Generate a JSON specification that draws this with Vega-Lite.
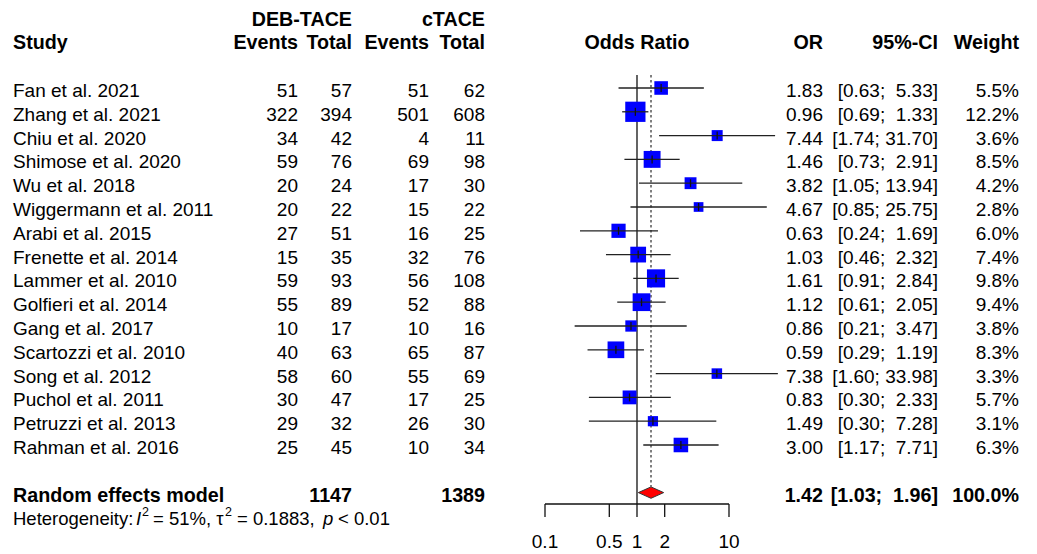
{
  "$schema": "https://vega.github.io/schema/vega-lite/v6.json",
  "width": 1037,
  "height": 554,
  "autosize": {"type": "fit", "contains": "padding"},
  "padding": 0,
  "background": "white",
  "config": {
    "view": {"stroke": null},
    "text": {"font": "Liberation Sans", "fontSize": 19, "fill": "black", "baseline": "middle", "dy": 3}
  },
  "datasets": {
    "studies": [
      {"study": "Fan et al. 2021", "e1": 51, "n1": 57, "e2": 51, "n2": 62, "or": 1.83, "lo": 0.63, "hi": 5.33, "ci": "[0.63;\u00a0\u00a05.33]", "w": 5.5, "wt": "5.5%", "row": 1},
      {"study": "Zhang et al. 2021", "e1": 322, "n1": 394, "e2": 501, "n2": 608, "or": 0.96, "lo": 0.69, "hi": 1.33, "ci": "[0.69;\u00a0\u00a01.33]", "w": 12.2, "wt": "12.2%", "row": 2},
      {"study": "Chiu et al. 2020", "e1": 34, "n1": 42, "e2": 4, "n2": 11, "or": 7.44, "lo": 1.74, "hi": 31.70, "ci": "[1.74;\u00a031.70]", "w": 3.6, "wt": "3.6%", "row": 3},
      {"study": "Shimose et al. 2020", "e1": 59, "n1": 76, "e2": 69, "n2": 98, "or": 1.46, "lo": 0.73, "hi": 2.91, "ci": "[0.73;\u00a0\u00a02.91]", "w": 8.5, "wt": "8.5%", "row": 4},
      {"study": "Wu et al. 2018", "e1": 20, "n1": 24, "e2": 17, "n2": 30, "or": 3.82, "lo": 1.05, "hi": 13.94, "ci": "[1.05;\u00a013.94]", "w": 4.2, "wt": "4.2%", "row": 5},
      {"study": "Wiggermann et al. 2011", "e1": 20, "n1": 22, "e2": 15, "n2": 22, "or": 4.67, "lo": 0.85, "hi": 25.75, "ci": "[0.85;\u00a025.75]", "w": 2.8, "wt": "2.8%", "row": 6},
      {"study": "Arabi et al. 2015", "e1": 27, "n1": 51, "e2": 16, "n2": 25, "or": 0.63, "lo": 0.24, "hi": 1.69, "ci": "[0.24;\u00a0\u00a01.69]", "w": 6.0, "wt": "6.0%", "row": 7},
      {"study": "Frenette et al. 2014", "e1": 15, "n1": 35, "e2": 32, "n2": 76, "or": 1.03, "lo": 0.46, "hi": 2.32, "ci": "[0.46;\u00a0\u00a02.32]", "w": 7.4, "wt": "7.4%", "row": 8},
      {"study": "Lammer et al. 2010", "e1": 59, "n1": 93, "e2": 56, "n2": 108, "or": 1.61, "lo": 0.91, "hi": 2.84, "ci": "[0.91;\u00a0\u00a02.84]", "w": 9.8, "wt": "9.8%", "row": 9},
      {"study": "Golfieri et al. 2014", "e1": 55, "n1": 89, "e2": 52, "n2": 88, "or": 1.12, "lo": 0.61, "hi": 2.05, "ci": "[0.61;\u00a0\u00a02.05]", "w": 9.4, "wt": "9.4%", "row": 10},
      {"study": "Gang et al. 2017", "e1": 10, "n1": 17, "e2": 10, "n2": 16, "or": 0.86, "lo": 0.21, "hi": 3.47, "ci": "[0.21;\u00a0\u00a03.47]", "w": 3.8, "wt": "3.8%", "row": 11},
      {"study": "Scartozzi et al. 2010", "e1": 40, "n1": 63, "e2": 65, "n2": 87, "or": 0.59, "lo": 0.29, "hi": 1.19, "ci": "[0.29;\u00a0\u00a01.19]", "w": 8.3, "wt": "8.3%", "row": 12},
      {"study": "Song et al. 2012", "e1": 58, "n1": 60, "e2": 55, "n2": 69, "or": 7.38, "lo": 1.60, "hi": 33.98, "ci": "[1.60;\u00a033.98]", "w": 3.3, "wt": "3.3%", "row": 13},
      {"study": "Puchol et al. 2011", "e1": 30, "n1": 47, "e2": 17, "n2": 25, "or": 0.83, "lo": 0.30, "hi": 2.33, "ci": "[0.30;\u00a0\u00a02.33]", "w": 5.7, "wt": "5.7%", "row": 14},
      {"study": "Petruzzi et al. 2013", "e1": 29, "n1": 32, "e2": 26, "n2": 30, "or": 1.49, "lo": 0.30, "hi": 7.28, "ci": "[0.30;\u00a0\u00a07.28]", "w": 3.1, "wt": "3.1%", "row": 15},
      {"study": "Rahman et al. 2016", "e1": 25, "n1": 45, "e2": 10, "n2": 34, "or": 3.00, "lo": 1.17, "hi": 7.71, "ci": "[1.17;\u00a0\u00a07.71]", "w": 6.3, "wt": "6.3%", "row": 16}
    ],
    "bold": [
      {"row": -2, "study": "", "e1": "", "n1": "DEB-TACE", "e2": "", "n2": "cTACE", "mid": "", "or": "", "ci": "", "wt": ""},
      {"row": -1, "study": "Study", "e1": "Events", "n1": "Total", "e2": "Events", "n2": "Total", "mid": "Odds Ratio", "or": "OR", "ci": "95%-CI", "wt": "Weight"},
      {"row": 18, "study": "Random effects model", "e1": "", "n1": "1147", "e2": "", "n2": "1389", "mid": "", "or": "1.42", "ci": "[1.03;\u00a0\u00a01.96]", "wt": "100.0%"}
    ],
    "pooled": [{"or": 1.42, "lo": 1.03, "hi": 1.96, "row": 18}],
    "ticks": [
      {"v": 0.1, "label": "0.1"},
      {"v": 0.5, "label": "0.5"},
      {"v": 1, "label": "1"},
      {"v": 2, "label": "2"},
      {"v": 10, "label": "10"}
    ],
    "het": [{"row": 19, "a": "Heterogeneity:", "i": "I", "sup": "2", "b": "= 51%, τ", "c": "= 0.1883,", "p": "p", "d": "< 0.01"}]
  },
  "layer": [
    {
      "data": {"values": [{}]},
      "mark": {"type": "rule", "color": "#111", "strokeWidth": 1.3},
      "encoding": {
        "x": {"datum": 1, "type": "quantitative", "scale": {"type": "log", "domain": [1.191e-7, 22284], "nice": false, "zero": false}, "axis": null},
        "y": {"datum": 0.45, "type": "quantitative", "scale": {"type": "linear", "domain": [-2.697, 20.58], "nice": false, "zero": false, "reverse": true}, "axis": null},
        "y2": {"datum": 18.48}
      }
    },
    {
      "data": {"name": "pooled"},
      "mark": {"type": "rule", "color": "#555", "strokeWidth": 1.5, "strokeDash": [2.5, 2.5]},
      "encoding": {
        "x": {"field": "or", "type": "quantitative", "scale": {"type": "log", "domain": [1.191e-7, 22284], "nice": false, "zero": false}, "axis": null},
        "y": {"datum": 0.45, "type": "quantitative", "scale": {"type": "linear", "domain": [-2.697, 20.58], "nice": false, "zero": false, "reverse": true}, "axis": null},
        "y2": {"datum": 17.75}
      }
    },
    {
      "data": {"name": "studies"},
      "mark": {"type": "square", "filled": true, "color": "#0000ff", "opacity": 1},
      "encoding": {
        "x": {"field": "or", "type": "quantitative", "scale": {"type": "log", "domain": [1.191e-7, 22284], "nice": false, "zero": false}, "axis": null},
        "y": {"field": "row", "type": "quantitative", "scale": {"type": "linear", "domain": [-2.697, 20.58], "nice": false, "zero": false, "reverse": true}, "axis": null},
        "size": {"field": "w", "type": "quantitative", "scale": {"type": "linear", "domain": [0, 12.2], "range": [0, 410], "zero": true}, "legend": null}
      }
    },
    {
      "data": {"name": "studies"},
      "mark": {"type": "rule", "color": "#222", "strokeWidth": 1.3},
      "encoding": {
        "x": {"field": "lo", "type": "quantitative", "scale": {"type": "log", "domain": [1.191e-7, 22284], "nice": false, "zero": false}, "axis": null},
        "x2": {"field": "hi"},
        "y": {"field": "row", "type": "quantitative", "scale": {"type": "linear", "domain": [-2.697, 20.58], "nice": false, "zero": false, "reverse": true}, "axis": null}
      }
    },
    {
      "data": {"name": "studies"},
      "mark": {"type": "point", "shape": "M0,-1L0,1", "filled": false, "stroke": "#111", "strokeWidth": 1.3, "size": 64, "opacity": 1},
      "encoding": {
        "x": {"field": "or", "type": "quantitative", "scale": {"type": "log", "domain": [1.191e-7, 22284], "nice": false, "zero": false}, "axis": null},
        "y": {"field": "row", "type": "quantitative", "scale": {"type": "linear", "domain": [-2.697, 20.58], "nice": false, "zero": false, "reverse": true}, "axis": null}
      }
    },
    {
      "data": {"name": "pooled"},
      "mark": {"type": "point", "shape": "M-1,0L0,-0.45L1,0L0,0.45Z", "filled": true, "fill": "#ff0000", "stroke": "#333", "strokeWidth": 1, "size": 640, "opacity": 1},
      "encoding": {
        "x": {"field": "or", "type": "quantitative", "scale": {"type": "log", "domain": [1.191e-7, 22284], "nice": false, "zero": false}, "axis": null},
        "y": {"field": "row", "type": "quantitative", "scale": {"type": "linear", "domain": [-2.697, 20.58], "nice": false, "zero": false, "reverse": true}, "axis": null}
      }
    },
    {
      "data": {"values": [{}]},
      "mark": {"type": "rule", "color": "#111", "strokeWidth": 1.3},
      "encoding": {
        "x": {"datum": 0.1, "type": "quantitative", "scale": {"type": "log", "domain": [1.191e-7, 22284], "nice": false, "zero": false}, "axis": null},
        "x2": {"datum": 10},
        "y": {"datum": 18.48, "type": "quantitative", "scale": {"type": "linear", "domain": [-2.697, 20.58], "nice": false, "zero": false, "reverse": true}, "axis": null}
      }
    },
    {
      "data": {"name": "ticks"},
      "mark": {"type": "rule", "color": "#111", "strokeWidth": 1.3},
      "encoding": {
        "x": {"field": "v", "type": "quantitative", "scale": {"type": "log", "domain": [1.191e-7, 22284], "nice": false, "zero": false}, "axis": null},
        "y": {"datum": 18.48, "type": "quantitative", "scale": {"type": "linear", "domain": [-2.697, 20.58], "nice": false, "zero": false, "reverse": true}, "axis": null},
        "y2": {"datum": 19.03}
      }
    },
    {
      "data": {"name": "ticks"},
      "mark": {"type": "text", "align": "center"},
      "encoding": {
        "x": {"field": "v", "type": "quantitative", "scale": {"type": "log", "domain": [1.191e-7, 22284], "nice": false, "zero": false}, "axis": null},
        "y": {"datum": 19.95, "type": "quantitative", "scale": {"type": "linear", "domain": [-2.697, 20.58], "nice": false, "zero": false, "reverse": true}, "axis": null},
        "text": {"field": "label"}
      }
    },
    {
      "data": {"name": "studies"},
      "mark": {"type": "text", "align": "left"},
      "encoding": {"x": {"value": 13}, "y": {"field": "row", "type": "quantitative", "scale": {"type": "linear", "domain": [-2.697, 20.58], "nice": false, "zero": false, "reverse": true}, "axis": null}, "text": {"field": "study"}}
    },
    {
      "data": {"name": "studies"},
      "mark": {"type": "text", "align": "right"},
      "encoding": {"x": {"value": 298}, "y": {"field": "row", "type": "quantitative", "scale": {"type": "linear", "domain": [-2.697, 20.58], "nice": false, "zero": false, "reverse": true}, "axis": null}, "text": {"field": "e1"}}
    },
    {
      "data": {"name": "studies"},
      "mark": {"type": "text", "align": "right"},
      "encoding": {"x": {"value": 352}, "y": {"field": "row", "type": "quantitative", "scale": {"type": "linear", "domain": [-2.697, 20.58], "nice": false, "zero": false, "reverse": true}, "axis": null}, "text": {"field": "n1"}}
    },
    {
      "data": {"name": "studies"},
      "mark": {"type": "text", "align": "right"},
      "encoding": {"x": {"value": 429}, "y": {"field": "row", "type": "quantitative", "scale": {"type": "linear", "domain": [-2.697, 20.58], "nice": false, "zero": false, "reverse": true}, "axis": null}, "text": {"field": "e2"}}
    },
    {
      "data": {"name": "studies"},
      "mark": {"type": "text", "align": "right"},
      "encoding": {"x": {"value": 485}, "y": {"field": "row", "type": "quantitative", "scale": {"type": "linear", "domain": [-2.697, 20.58], "nice": false, "zero": false, "reverse": true}, "axis": null}, "text": {"field": "n2"}}
    },
    {
      "data": {"name": "studies"},
      "mark": {"type": "text", "align": "right"},
      "encoding": {"x": {"value": 823}, "y": {"field": "row", "type": "quantitative", "scale": {"type": "linear", "domain": [-2.697, 20.58], "nice": false, "zero": false, "reverse": true}, "axis": null}, "text": {"field": "or", "type": "quantitative", "format": ".2f"}}
    },
    {
      "data": {"name": "studies"},
      "mark": {"type": "text", "align": "right"},
      "encoding": {"x": {"value": 938}, "y": {"field": "row", "type": "quantitative", "scale": {"type": "linear", "domain": [-2.697, 20.58], "nice": false, "zero": false, "reverse": true}, "axis": null}, "text": {"field": "ci"}}
    },
    {
      "data": {"name": "studies"},
      "mark": {"type": "text", "align": "right"},
      "encoding": {"x": {"value": 1019}, "y": {"field": "row", "type": "quantitative", "scale": {"type": "linear", "domain": [-2.697, 20.58], "nice": false, "zero": false, "reverse": true}, "axis": null}, "text": {"field": "wt"}}
    },
    {
      "data": {"name": "bold"},
      "mark": {"type": "text", "align": "left", "fontWeight": "bold", "fontSize": 19.7},
      "encoding": {"x": {"value": 13}, "y": {"field": "row", "type": "quantitative", "scale": {"type": "linear", "domain": [-2.697, 20.58], "nice": false, "zero": false, "reverse": true}, "axis": null}, "text": {"field": "study"}}
    },
    {
      "data": {"name": "bold"},
      "mark": {"type": "text", "align": "right", "fontWeight": "bold", "fontSize": 19.7},
      "encoding": {"x": {"value": 298}, "y": {"field": "row", "type": "quantitative", "scale": {"type": "linear", "domain": [-2.697, 20.58], "nice": false, "zero": false, "reverse": true}, "axis": null}, "text": {"field": "e1"}}
    },
    {
      "data": {"name": "bold"},
      "mark": {"type": "text", "align": "right", "fontWeight": "bold", "fontSize": 19.7},
      "encoding": {"x": {"value": 352}, "y": {"field": "row", "type": "quantitative", "scale": {"type": "linear", "domain": [-2.697, 20.58], "nice": false, "zero": false, "reverse": true}, "axis": null}, "text": {"field": "n1"}}
    },
    {
      "data": {"name": "bold"},
      "mark": {"type": "text", "align": "right", "fontWeight": "bold", "fontSize": 19.7},
      "encoding": {"x": {"value": 429}, "y": {"field": "row", "type": "quantitative", "scale": {"type": "linear", "domain": [-2.697, 20.58], "nice": false, "zero": false, "reverse": true}, "axis": null}, "text": {"field": "e2"}}
    },
    {
      "data": {"name": "bold"},
      "mark": {"type": "text", "align": "right", "fontWeight": "bold", "fontSize": 19.7},
      "encoding": {"x": {"value": 485}, "y": {"field": "row", "type": "quantitative", "scale": {"type": "linear", "domain": [-2.697, 20.58], "nice": false, "zero": false, "reverse": true}, "axis": null}, "text": {"field": "n2"}}
    },
    {
      "data": {"name": "bold"},
      "mark": {"type": "text", "align": "center", "fontWeight": "bold", "fontSize": 19.7},
      "encoding": {
        "x": {"datum": 1, "type": "quantitative", "scale": {"type": "log", "domain": [1.191e-7, 22284], "nice": false, "zero": false}, "axis": null},
        "y": {"field": "row", "type": "quantitative", "scale": {"type": "linear", "domain": [-2.697, 20.58], "nice": false, "zero": false, "reverse": true}, "axis": null},
        "text": {"field": "mid"}
      }
    },
    {
      "data": {"name": "bold"},
      "mark": {"type": "text", "align": "right", "fontWeight": "bold", "fontSize": 19.7},
      "encoding": {"x": {"value": 823}, "y": {"field": "row", "type": "quantitative", "scale": {"type": "linear", "domain": [-2.697, 20.58], "nice": false, "zero": false, "reverse": true}, "axis": null}, "text": {"field": "or"}}
    },
    {
      "data": {"name": "bold"},
      "mark": {"type": "text", "align": "right", "fontWeight": "bold", "fontSize": 19.7},
      "encoding": {"x": {"value": 938}, "y": {"field": "row", "type": "quantitative", "scale": {"type": "linear", "domain": [-2.697, 20.58], "nice": false, "zero": false, "reverse": true}, "axis": null}, "text": {"field": "ci"}}
    },
    {
      "data": {"name": "bold"},
      "mark": {"type": "text", "align": "right", "fontWeight": "bold", "fontSize": 19.7},
      "encoding": {"x": {"value": 1019}, "y": {"field": "row", "type": "quantitative", "scale": {"type": "linear", "domain": [-2.697, 20.58], "nice": false, "zero": false, "reverse": true}, "axis": null}, "text": {"field": "wt"}}
    },
    {
      "data": {"name": "het"},
      "mark": {"type": "text", "align": "left", "fontSize": 18.5},
      "encoding": {"x": {"value": 13}, "y": {"field": "row", "type": "quantitative", "scale": {"type": "linear", "domain": [-2.697, 20.58], "nice": false, "zero": false, "reverse": true}, "axis": null}, "text": {"field": "a"}}
    },
    {
      "data": {"name": "het"},
      "mark": {"type": "text", "align": "left", "fontSize": 18.5, "fontStyle": "italic"},
      "encoding": {"x": {"value": 136}, "y": {"field": "row", "type": "quantitative", "scale": {"type": "linear", "domain": [-2.697, 20.58], "nice": false, "zero": false, "reverse": true}, "axis": null}, "text": {"field": "i"}}
    },
    {
      "data": {"name": "het"},
      "mark": {"type": "text", "align": "left", "fontSize": 12.5, "dy": -4.7},
      "encoding": {"x": {"value": 142}, "y": {"field": "row", "type": "quantitative", "scale": {"type": "linear", "domain": [-2.697, 20.58], "nice": false, "zero": false, "reverse": true}, "axis": null}, "text": {"field": "sup"}}
    },
    {
      "data": {"name": "het"},
      "mark": {"type": "text", "align": "left", "fontSize": 18.5},
      "encoding": {"x": {"value": 153}, "y": {"field": "row", "type": "quantitative", "scale": {"type": "linear", "domain": [-2.697, 20.58], "nice": false, "zero": false, "reverse": true}, "axis": null}, "text": {"field": "b"}}
    },
    {
      "data": {"name": "het"},
      "mark": {"type": "text", "align": "left", "fontSize": 12.5, "dy": -4.7},
      "encoding": {"x": {"value": 225}, "y": {"field": "row", "type": "quantitative", "scale": {"type": "linear", "domain": [-2.697, 20.58], "nice": false, "zero": false, "reverse": true}, "axis": null}, "text": {"field": "sup"}}
    },
    {
      "data": {"name": "het"},
      "mark": {"type": "text", "align": "left", "fontSize": 18.5},
      "encoding": {"x": {"value": 237}, "y": {"field": "row", "type": "quantitative", "scale": {"type": "linear", "domain": [-2.697, 20.58], "nice": false, "zero": false, "reverse": true}, "axis": null}, "text": {"field": "c"}}
    },
    {
      "data": {"name": "het"},
      "mark": {"type": "text", "align": "left", "fontSize": 18.5, "fontStyle": "italic"},
      "encoding": {"x": {"value": 323}, "y": {"field": "row", "type": "quantitative", "scale": {"type": "linear", "domain": [-2.697, 20.58], "nice": false, "zero": false, "reverse": true}, "axis": null}, "text": {"field": "p"}}
    },
    {
      "data": {"name": "het"},
      "mark": {"type": "text", "align": "left", "fontSize": 18.5},
      "encoding": {"x": {"value": 338}, "y": {"field": "row", "type": "quantitative", "scale": {"type": "linear", "domain": [-2.697, 20.58], "nice": false, "zero": false, "reverse": true}, "axis": null}, "text": {"field": "d"}}
    }
  ]
}
